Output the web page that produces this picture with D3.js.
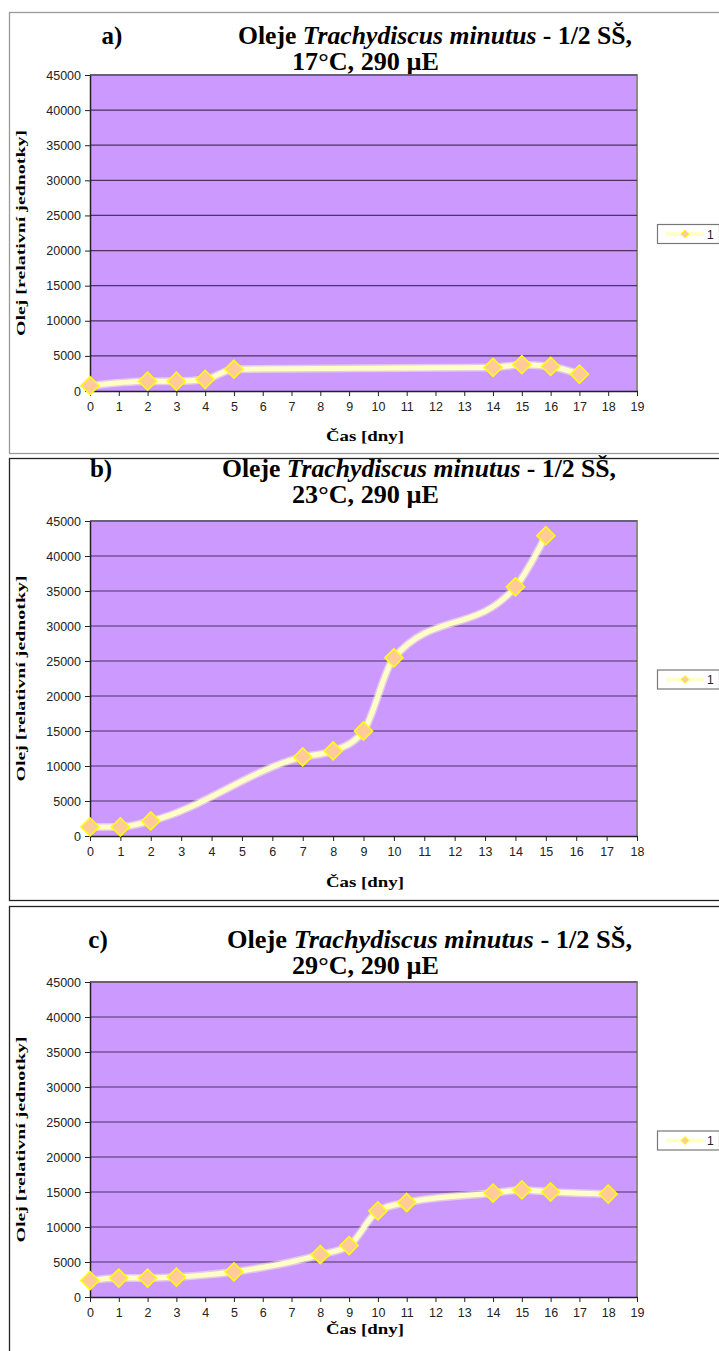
<!DOCTYPE html>
<html>
<head>
<meta charset="utf-8">
<script src="https://cdn.jsdelivr.net/npm/d3@7"></script>
<style>
  body { margin: 0; background: #fff; }
  svg { display: block; }
</style>
</head>
<body>
<svg id="chart" width="719" height="1351"></svg>
<script>
// data
const daysA = [0, 2, 3, 4, 5, 14, 15, 16, 17]
const oilA = [760, 1400, 1400, 1650, 3100, 3350, 3750, 3500, 2400]

const daysB = [0, 1, 2, 7, 8, 9, 10, 14, 15]
const oilB = [1300, 1300, 2150, 11300, 12150, 15000, 25450, 35600, 42900]

const daysC = [0, 1, 2, 3, 5, 8, 9, 10, 11, 14, 15, 16, 18]
const oilC = [2350, 2700, 2700, 2850, 3600, 6050, 7350, 12300, 13500, 14850, 15300, 15000, 14700]

const yTicks = [0, 5000, 10000, 15000, 20000, 25000, 30000, 35000, 40000, 45000]
const xMaxA = 19, xMaxB = 18, xMaxC = 19

const panels = [
  { letter: 'a)', temp: '17°C, 290 µE', tail: ' - 1/2 SŠ,', days: daysA, oil: oilA, xMax: xMaxA,
    frame: [9, 12, 453], frameColor: '#9a9a9a', top: 75, bottom: 391, titleY: 44, letterX: 112, titleX: 238, xLabelY: 441 },
  { letter: 'b)', temp: '23°C, 290 µE', tail: ' - 1/2 SŠ,', days: daysB, oil: oilB, xMax: xMaxB,
    frame: [9, 458, 900], frameColor: '#222', top: 521, bottom: 836, titleY: 477, letterX: 101, titleX: 222, xLabelY: 887 },
  { letter: 'c)', temp: '29°C, 290 µE', tail: ' - 1/2  SŠ,', days: daysC, oil: oilC, xMax: xMaxC,
    frame: [9, 906, 1360], frameColor: '#222', top: 982, bottom: 1297, titleY: 948, letterX: 98, titleX: 227, xLabelY: 1334 }
]

const svg = d3.select('#chart')
const left = 90, right = 637
const purple = '#cc99ff'
const lineColor = '#ffffc8'
const markFill = '#ffcc99'
const markStroke = '#ffff00'
const serif = 'Liberation Serif, Times New Roman, serif'

panels.forEach(p => {
  const g = svg.append('g')

  // outer frame
  g.append('rect')
    .attr('x', p.frame[0] + 0.5).attr('y', p.frame[1] + 0.5)
    .attr('width', 740).attr('height', p.frame[2] - p.frame[1])
    .attr('fill', 'none').attr('stroke', p.frameColor).attr('stroke-width', 1.3)

  // titles
  g.append('text').attr('x', p.letterX).attr('y', p.titleY)
    .attr('text-anchor', 'middle')
    .style('font-family', serif)
    .style('font-weight', 'bold').style('font-size', '25px')
    .text(p.letter)
  const t = g.append('text').attr('x', p.titleX).attr('y', p.titleY)
    .attr('textLength', p.tail.length > 10 ? 405 : 394).attr('lengthAdjust', 'spacingAndGlyphs')
    .style('font-family', serif)
    .style('font-weight', 'bold').style('font-size', '25px')
  t.append('tspan').text('Oleje ')
  t.append('tspan').style('font-style', 'italic').text('Trachydiscus minutus')
  t.append('tspan').text(p.tail)
  g.append('text').attr('x', 292).attr('y', p.titleY + 26)
    .attr('textLength', 147).attr('lengthAdjust', 'spacingAndGlyphs')
    .style('font-family', serif)
    .style('font-weight', 'bold').style('font-size', '25px')
    .text(p.temp)

  const x = d3.scaleLinear().domain([0, p.xMax]).range([left, right])
  const y = d3.scaleLinear().domain([0, 45000]).range([p.bottom, p.top])

  // plot area
  g.append('rect').attr('x', left).attr('y', p.top)
    .attr('width', right - left).attr('height', p.bottom - p.top)
    .attr('fill', purple)
  g.append('path')
    .attr('d', `M${left},${p.top}H${right}V${p.bottom}`)
    .attr('fill', 'none').attr('stroke', '#8c8c8c').attr('stroke-width', 2)

  // grid lines
  g.selectAll('line.grid').data(yTicks.slice(1)).enter()
    .append('line').attr('class', 'grid')
    .attr('x1', left).attr('x2', right)
    .attr('y1', d => y(d)).attr('y2', d => y(d))
    .attr('stroke', '#4a3366').attr('stroke-width', 1.2)

  // axes
  const yAxis = d3.axisLeft(y).tickValues(yTicks).tickFormat(d3.format('d'))
    .tickSize(5).tickSizeOuter(0).tickPadding(4)
  const ya = g.append('g').attr('transform', `translate(${left},0)`).call(yAxis)
  const xAxis = d3.axisBottom(x).ticks(p.xMax).tickSize(5).tickSizeOuter(0).tickPadding(6)
  const xa = g.append('g').attr('transform', `translate(0,${p.bottom})`).call(xAxis)
  ;[ya, xa].forEach(a => {
    a.selectAll('text')
      .style('font-family', 'Liberation Sans, Arial, sans-serif')
      .style('font-size', '12.5px').attr('fill', '#222')
    a.selectAll('line').attr('stroke', '#222')
    a.select('path.domain').attr('stroke', '#222').attr('stroke-width', 1.5)
  })

  // axis titles
  g.append('text').attr('x', 326).attr('y', p.xLabelY)
    .attr('textLength', 78).attr('lengthAdjust', 'spacingAndGlyphs')
    .style('font-family', serif)
    .style('font-weight', 'bold').style('font-size', '15px')
    .text('Čas [dny]')
  g.append('text')
    .attr('transform', `translate(25,${(p.top + p.bottom) / 2}) rotate(-90)`)
    .attr('x', -103)
    .attr('textLength', 206).attr('lengthAdjust', 'spacingAndGlyphs')
    .style('font-family', serif)
    .style('font-weight', 'bold').style('font-size', '13px')
    .text('Olej [relativní jednotky]')

  // series line
  const pts = p.days.map((d, i) => [d, p.oil[i]])
  const line = d3.line().x(d => x(d[0])).y(d => y(d[1])).curve(d3.curveMonotoneX)
  g.append('path').attr('d', line(pts))
    .attr('fill', 'none').attr('stroke', '#fff8d0').attr('stroke-opacity', 0.5)
    .attr('stroke-width', 8).attr('stroke-linejoin', 'round')
  g.append('path').attr('d', line(pts))
    .attr('fill', 'none').attr('stroke', lineColor).attr('stroke-width', 5)
    .attr('stroke-linejoin', 'round')

  const diamond = d3.symbol().type(d3.symbolDiamond2).size(210)
  g.selectAll('path.mark').data(pts).enter()
    .append('path').attr('class', 'mark')
    .attr('transform', d => `translate(${x(d[0])},${y(d[1])})`)
    .attr('d', diamond)
    .attr('fill', markFill).attr('stroke', markStroke).attr('stroke-width', 1.5)

  // legend
  const ly = (p.top + p.bottom) / 2
  const lg = g.append('g').attr('transform', `translate(657,${ly - 9})`)
  lg.append('rect').attr('x', 0.5).attr('y', 0.5).attr('width', 62).attr('height', 19)
    .attr('fill', '#fff').attr('stroke', '#777').attr('stroke-width', 1.2)
  lg.append('line').attr('x1', 9).attr('x2', 47).attr('y1', 10).attr('y2', 10)
    .attr('stroke', lineColor).attr('stroke-width', 4)
  lg.append('path').attr('transform', 'translate(28,10)')
    .attr('d', d3.symbol().type(d3.symbolDiamond2).size(40))
    .attr('fill', markFill).attr('stroke', markStroke).attr('stroke-width', 1)
  lg.append('text').attr('x', 50).attr('y', 14.5)
    .style('font-family', 'Liberation Sans, Arial, sans-serif')
    .style('font-size', '12px').attr('fill', '#222')
    .text('1')
})
</script>
</body>
</html>
